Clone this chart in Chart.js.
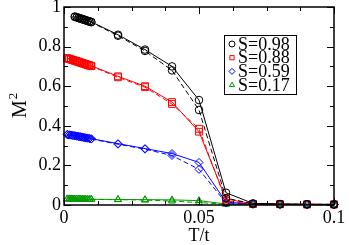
<!DOCTYPE html>
<html>
<head>
<meta charset="utf-8">
<script src="https://cdn.jsdelivr.net/npm/chart.js@4.4.0/dist/chart.umd.min.js"></script>
<style>
  html, body { margin: 0; padding: 0; background: #fff; }
  #wrap { width: 349px; height: 245px; }
</style>
</head>
<body>
<div id="wrap"><canvas id="m2"></canvas></div>
<script>
// temperatures (T/t)
const tLowS98 = [0.004, 0.0047, 0.0054, 0.006, 0.0067, 0.0074, 0.008, 0.0087, 0.0094, 0.0101];
const tLow = [0.0012, 0.0019, 0.0026, 0.0033, 0.004, 0.0047, 0.0054, 0.006, 0.0067, 0.0074, 0.008, 0.0087, 0.0094, 0.0101];
const tHigh = [0.02, 0.03, 0.04, 0.05, 0.06, 0.07, 0.08, 0.09, 0.1];

// M^2, solid and dashed curve per S
const s98Solid = [0.952, 0.949, 0.946, 0.943, 0.94, 0.937, 0.934, 0.931, 0.928, 0.925, 0.86, 0.785, 0.70, 0.53, 0.062, 0.008, 0.005, 0.004, 0.003];
const s98Dash  = [0.950, 0.947, 0.944, 0.941, 0.938, 0.935, 0.932, 0.929, 0.926, 0.923, 0.855, 0.778, 0.68, 0.48, 0.035, 0.006, 0.004, 0.003, 0.003];
const s88Solid = [0.742, 0.739, 0.736, 0.733, 0.73, 0.727, 0.724, 0.721, 0.718, 0.715, 0.712, 0.709, 0.706, 0.703, 0.65, 0.60, 0.52, 0.37, 0.03, 0.006, 0.004, 0.003, 0.003];
const s88Dash  = [0.740, 0.737, 0.734, 0.731, 0.728, 0.725, 0.722, 0.719, 0.716, 0.713, 0.710, 0.707, 0.704, 0.701, 0.645, 0.595, 0.51, 0.385, 0.02, 0.005, 0.004, 0.003, 0.003];
const s59Solid = [0.357, 0.355, 0.354, 0.352, 0.351, 0.349, 0.347, 0.346, 0.344, 0.342, 0.340, 0.339, 0.337, 0.335, 0.31, 0.285, 0.26, 0.215, 0.015, 0.004, 0.003, 0.003, 0.002];
const s59Dash  = [0.355, 0.353, 0.352, 0.350, 0.349, 0.347, 0.345, 0.344, 0.342, 0.340, 0.338, 0.337, 0.335, 0.333, 0.307, 0.282, 0.25, 0.18, 0.01, 0.004, 0.003, 0.002, 0.002];
const s17Solid = [0.031, 0.031, 0.031, 0.030, 0.030, 0.030, 0.030, 0.030, 0.029, 0.029, 0.029, 0.029, 0.029, 0.029, 0.028, 0.027, 0.026, 0.022, 0.005, 0.003, 0.002, 0.002, 0.002];
const s17Dash  = [0.030, 0.030, 0.030, 0.030, 0.029, 0.029, 0.029, 0.029, 0.029, 0.028, 0.028, 0.028, 0.028, 0.028, 0.027, 0.025, 0.02, 0.012, 0.004, 0.003, 0.002, 0.002, 0.002];

const seriesLabels = ['S=0.98', 'S=0.88', 'S=0.59', 'S=0.17'];
const seriesColors = ['#000000', '#ff0000', '#0000ff', '#009a00'];
const seriesMarks = ['circle', 'rect', 'rectRot', 'triangle'];
const markSize = [3.8, 4.8, 4, 4];

const xMajor = [0, 0.05, 0.1];
const yMajor = [0, 0.2, 0.4, 0.6, 0.8, 1];

const serif = 'Liberation Serif, Times New Roman, serif';

function pts(xs, ys) { return ys.map((y, i) => ({ x: xs[i], y })); }
function near(v, list) { return list.some((m) => Math.abs(m - v) < 1e-6); }

const curves = [
  [tLowS98.concat(tHigh), s98Solid, s98Dash],
  [tLow.concat(tHigh), s88Solid, s88Dash],
  [tLow.concat(tHigh), s59Solid, s59Dash],
  [tLow.concat(tHigh), s17Solid, s17Dash],
];

const datasets = [];
curves.forEach((c, i) => {
  [c[1], c[2]].forEach((ys, k) => {
    datasets.push({
      label: seriesLabels[i] + (k ? ' dashed' : ''),
      data: pts(c[0], ys),
      borderColor: seriesColors[i],
      borderWidth: 1,
      borderDash: k ? [5, 3] : [],
      pointStyle: seriesMarks[i],
      pointRadius: markSize[i],
      pointBorderWidth: 1,
      pointBorderColor: seriesColors[i],
      pointBackgroundColor: 'rgba(0,0,0,0)',
      tension: 0,
      clip: false,
    });
  });
});

// frame, inward ticks on all four sides, y title with superscript, legend box
const framePlugin = {
  id: 'frame',
  afterDatasetsDraw(chart) {
    const { ctx, chartArea: a, scales } = chart;
    ctx.save();
    ctx.strokeStyle = '#000';
    ctx.lineWidth = 1.5;
    ctx.strokeRect(a.left, a.top, a.right - a.left, a.bottom - a.top);
    ctx.lineWidth = 1;
    scales.x.ticks.forEach((t) => {
      const px = Math.round(scales.x.getPixelForValue(t.value)) + 0.5;
      const len = near(t.value, xMajor) ? 7 : 4;
      ctx.beginPath();
      ctx.moveTo(px, a.bottom); ctx.lineTo(px, a.bottom - len);
      ctx.moveTo(px, a.top); ctx.lineTo(px, a.top + len);
      ctx.stroke();
    });
    scales.y.ticks.forEach((t) => {
      const py = Math.round(scales.y.getPixelForValue(t.value)) + 0.5;
      const len = near(t.value, yMajor) ? 7 : 4;
      ctx.beginPath();
      ctx.moveTo(a.left, py); ctx.lineTo(a.left + len, py);
      ctx.moveTo(a.right, py); ctx.lineTo(a.right - len, py);
      ctx.stroke();
    });

    // y axis title M^2
    ctx.save();
    ctx.translate(26, 118);
    ctx.rotate(-Math.PI / 2);
    ctx.fillStyle = '#000';
    ctx.textBaseline = 'alphabetic';
    ctx.font = '20px ' + serif;
    ctx.fillText('M', 0, 0);
    const mw = ctx.measureText('M').width;
    ctx.font = '13px ' + serif;
    ctx.fillText('2', mw + 1, -9);
    ctx.restore();

    // legend
    const bx = 224, by = 35, bw = 72, bh = 59;
    ctx.fillStyle = '#fff';
    ctx.fillRect(bx, by, bw, bh);
    ctx.strokeRect(bx + 0.5, by + 0.5, bw, bh);
    ctx.font = '18px ' + serif;
    ctx.textBaseline = 'middle';
    seriesLabels.forEach((lab, i) => {
      const y = by + 9 + i * 13.7;
      ctx.strokeStyle = seriesColors[i];
      ctx.fillStyle = '#fff';
      Chart.helpers.drawPoint(ctx, { pointStyle: seriesMarks[i], radius: 3, borderWidth: 1 }, bx + 8, y);
      ctx.fillStyle = '#000';
      ctx.fillText(lab, bx + 14, y + 1);
    });
    ctx.restore();
  },
};

new Chart(document.getElementById('m2'), {
  type: 'line',
  data: { datasets },
  plugins: [framePlugin],
  options: {
    responsive: true, maintainAspectRatio: false, animation: false,
    layout: { padding: { top: 7, right: 15, left: 0, bottom: 0 } },
    plugins: { legend: { display: false }, tooltip: { enabled: false } },
    scales: {
      x: {
        type: 'linear', min: 0, max: 0.1,
        grid: { display: false, drawTicks: false }, border: { display: false },
        ticks: {
          stepSize: 0.0125, autoSkip: false, maxRotation: 0, padding: 2,
          color: '#000', font: { family: serif, size: 18 },
          callback: (v) => (near(v, xMajor) ? String(+v.toFixed(2)) : ''),
        },
        title: { display: true, text: 'T/t', color: '#000', font: { family: serif, size: 18, lineHeight: 1 }, padding: { top: 0, bottom: 0 } },
        afterFit: (s) => { s.height = 40; s.paddingLeft = 0; s.paddingRight = 0; },
      },
      y: {
        min: 0, max: 1,
        grid: { display: false, drawTicks: false }, border: { display: false },
        ticks: {
          stepSize: 0.1, autoSkip: false, padding: 3,
          color: '#000', font: { family: serif, size: 18 },
          callback: (v) => (near(v, yMajor) ? String(+v.toFixed(1)) : ''),
        },
        afterFit: (s) => { s.width = 64; s.paddingTop = 0; s.paddingBottom = 0; },
      },
    },
  },
});
</script>
</body>
</html>
